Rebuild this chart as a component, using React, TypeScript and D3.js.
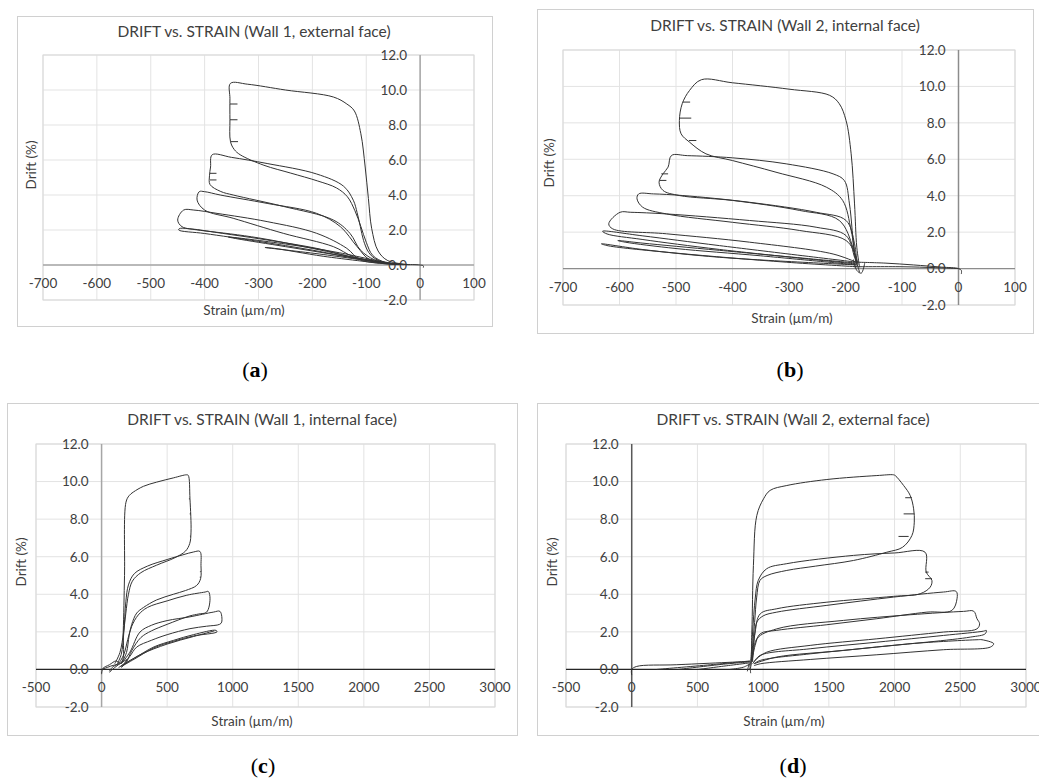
import React from "react";
import * as d3 from "d3";

type Pt = [number, number];

const driftTicks = [-2, 0, 2, 4, 6, 8, 10, 12];
const strainTicksCompression = [-700, -600, -500, -400, -300, -200, -100, 0, 100];
const strainTicksTension = [-500, 0, 500, 1000, 1500, 2000, 2500, 3000];

// (a) Wall 1, external face
const wall1ExtLoops: Pt[][] = [
  [[-20, 0.02], [-60, 0.25], [-78, 0.8], [-90, 2.1], [-96, 3.8], [-102, 5.6], [-110, 7.5], [-122, 8.8], [-136, 9.2], [-161, 9.6], [-250, 10.0], [-320, 10.33], [-352, 10.38],
   [-353, 9.5], [-353, 8.3], [-352, 7.05], [-345, 6.6], [-334, 6.3], [-290, 5.7], [-240, 5.25], [-190, 4.8], [-155, 4.4], [-135, 3.9], [-121, 3.1], [-110, 2.2], [-100, 1.3], [-88, 0.55], [-65, 0.15], [-30, 0.02]],
  [[-40, 0.05], [-80, 0.3], [-95, 0.7], [-105, 1.4], [-111, 2.2], [-117, 3.0], [-124, 3.7], [-142, 4.5], [-192, 5.2], [-284, 5.8], [-350, 6.15], [-386, 6.3],
   [-389, 5.6], [-391, 5.1], [-390, 4.6], [-370, 4.2], [-347, 4.0], [-254, 3.35], [-161, 2.57], [-130, 1.8], [-111, 0.86], [-85, 0.3], [-50, 0.05]],
  [[-40, 0.05], [-93, 0.29], [-117, 1.05], [-148, 2.19], [-192, 2.95], [-284, 3.52], [-371, 4.0], [-400, 4.19], [-410, 4.19],
   [-414, 3.71], [-400, 3.14], [-347, 2.67], [-254, 1.81], [-161, 1.05], [-124, 0.48], [-60, 0.08]],
  [[-40, 0.05], [-111, 0.29], [-136, 0.95], [-192, 1.81], [-284, 2.48], [-377, 2.95], [-420, 3.14], [-439, 3.14],
   [-450, 2.57], [-442, 2.19], [-408, 2.0], [-284, 1.43], [-192, 0.95], [-130, 0.48], [-60, 0.08]],
  [[-40, 0.03], [-99, 0.29], [-200, 0.95], [-300, 1.55], [-400, 1.95], [-447, 2.08],
   [-448, 2.0], [-400, 1.8], [-300, 1.35], [-200, 0.85], [-99, 0.25], [-40, 0.02]],
  [[-60, 0.1], [-150, 0.7], [-250, 1.2], [-356, 1.6], [-340, 1.5], [-250, 1.05], [-150, 0.55], [-60, 0.08]],
  [[-60, 0.08], [-180, 0.6], [-288, 1.0], [-270, 0.95], [-180, 0.5], [-60, 0.05]],
  [[-60, 0.05], [-30, 0.03], [0, 0], [6, -0.05], [6, -0.15]],
];
const wall1ExtMarks: Pt[][] = [
  [[-353, 9.2], [-339, 9.2]], [[-353, 8.3], [-339, 8.3]], [[-352, 7.05], [-338, 7.05]],
  [[-390, 5.24], [-378, 5.24]], [[-390, 4.86], [-378, 4.86]],
];

// (b) Wall 2, internal face
const wall2IntLoops: Pt[][] = [
  [[-175, 0.07], [-180, 1.17], [-184, 3.55], [-190, 6.3], [-199, 8.13], [-211, 9.05], [-228, 9.51], [-300, 9.85], [-400, 10.2], [-455, 10.37],
   [-476, 9.78], [-489, 9.05], [-494, 8.13], [-491, 7.4], [-476, 6.94], [-447, 6.3], [-400, 5.93], [-323, 5.29], [-234, 4.47], [-205, 3.74], [-190, 2.09], [-181, 0.44], [-175, -0.2]],
  [[-180, 0.3], [-184, 0.8], [-193, 3.55], [-202, 4.83], [-222, 5.2], [-305, 5.75], [-400, 6.08], [-480, 6.2], [-508, 6.21],
   [-514, 5.57], [-523, 5.2], [-530, 4.74], [-523, 4.29], [-494, 4.01], [-400, 3.74], [-281, 3.19], [-211, 2.64], [-187, 1.17], [-181, 0.3]],
  [[-180, 0.3], [-184, 1.36], [-199, 2.64], [-252, 3.09], [-370, 3.64], [-488, 4.01], [-540, 4.1], [-566, 4.1],
   [-569, 3.83], [-559, 3.37], [-517, 3.0], [-400, 2.54], [-281, 2.09], [-199, 1.54], [-181, 0.62], [-178, 0.2]],
  [[-180, 0.25], [-184, 0.62], [-199, 1.81], [-252, 2.27], [-370, 2.64], [-517, 3.0], [-580, 3.09], [-599, 3.09],
   [-619, 2.46], [-612, 2.18], [-517, 1.91], [-370, 1.45], [-222, 0.8], [-181, 0.35]],
  [[-180, 0.35], [-423, 1.26], [-560, 1.8], [-630, 2.05], [-622, 1.9], [-560, 1.6], [-423, 1.05], [-180, 0.25]],
  [[-180, 0.3], [-423, 1.0], [-560, 1.4], [-603, 1.54], [-590, 1.45], [-500, 1.1], [-350, 0.7], [-180, 0.2]],
  [[-180, 0.2], [-423, 0.62], [-560, 1.05], [-632, 1.36], [-620, 1.25], [-500, 0.85], [-305, 0.35], [-180, 0.1]],
  [[-180, 0.35], [-130, 0.3], [-80, 0.2], [-30, 0.08], [0, 0], [5, -0.1], [5, -0.3]],
  [[-185, 0.1], [-100, 0.1], [-40, 0.05], [0, 0]],
  [[-186, 0.5], [-180, -0.1], [-172, -0.25], [-166, 0.3]],
];
const wall2IntMarks: Pt[][] = [
  [[-488, 9.14], [-475, 9.14]], [[-494, 8.26], [-473, 8.26]], [[-477, 7.03], [-464, 7.03]],
  [[-526, 5.2], [-514, 5.2]], [[-529, 4.84], [-517, 4.84]],
];

// (c) Wall 1, internal face
const wall1IntLoops: Pt[][] = [
  [[0, 0], [80, 0.2], [153, 0.39], [165, 2.0], [175, 5.0], [186, 8.9], [210, 9.25], [242, 9.44], [320, 9.75], [420, 9.97], [550, 10.2], [649, 10.36],
   [661, 10.33], [674, 9.08], [682, 7.31], [672, 6.7], [640, 6.3], [560, 5.95], [420, 5.55], [300, 5.15], [235, 4.7], [205, 4.0], [185, 3.0], [168, 2.0], [140, 0.9], [100, 0.3]],
  [[120, 0.3], [150, 0.8], [170, 2.0], [185, 3.6], [205, 4.5], [250, 5.1], [350, 5.5], [500, 5.85], [620, 6.1], [700, 6.25], [750, 6.28],
   [758, 5.53], [755, 4.83], [725, 4.47], [640, 4.2], [547, 4.0], [420, 3.7], [320, 3.3], [268, 3.0], [230, 2.4], [210, 1.8], [190, 0.9], [150, 0.3]],
  [[130, 0.3], [170, 0.8], [200, 1.6], [230, 2.3], [280, 2.9], [350, 3.3], [500, 3.65], [650, 3.95], [790, 4.12], [814, 4.15],
   [827, 3.76], [801, 3.05], [740, 2.95], [674, 2.85], [500, 2.4], [380, 2.05], [300, 1.7], [230, 1.0], [190, 0.4], [150, 0.1]],
  [[150, 0.3], [216, 0.92], [293, 1.99], [380, 2.35], [500, 2.6], [674, 2.8], [852, 3.05], [903, 3.09],
   [916, 2.52], [900, 2.4], [800, 2.3], [674, 2.17], [500, 1.85], [380, 1.55], [268, 1.19], [216, 0.7], [170, 0.3]],
  [[150, 0.2], [250, 0.6], [400, 1.2], [550, 1.55], [700, 1.85], [873, 2.08], [880, 2.0], [700, 1.78], [550, 1.5], [400, 1.15], [250, 0.55], [150, 0.15]],
  [[130, 0.1], [300, 0.8], [500, 1.35], [700, 1.75], [860, 2.05]],
  [[0, -0.25], [10, 0.05], [60, 0.25], [110, 0.45], [130, 0.35], [80, 0.1], [60, -0.1]],
  [[60, -0.15], [100, 0.1], [160, 0.4], [200, 0.55]],
];
const wall1IntMarks: Pt[][] = [
  [[674, 9.08], [666, 9.08]], [[681, 8.28], [672, 8.28]], [[682, 7.1], [674, 7.1]],
  [[757, 5.2], [750, 5.2]], [[756, 4.91], [749, 4.91]],
];

// (d) Wall 2, external face
const wall2ExtLoops: Pt[][] = [
  [[890, 0.0], [901, 0.04], [914, 1.99], [926, 5.53], [952, 8.2], [1003, 9.08], [1053, 9.53], [1180, 9.79], [1485, 10.11], [1865, 10.32], [1992, 10.36],
   [2005, 10.32], [2069, 9.79], [2119, 9.26], [2145, 8.55], [2150, 7.84], [2132, 7.13], [2060, 6.5], [1941, 6.24], [1687, 5.8], [1400, 5.5], [1180, 5.27], [1030, 5.0], [976, 4.74], [951, 3.85], [935, 2.5], [915, 0.9], [905, 0.2]],
  [[905, 0.3], [920, 2.0], [940, 3.8], [963, 4.74], [1027, 5.36], [1180, 5.63], [1687, 6.07], [2000, 6.2], [2232, 6.24],
   [2241, 5.18], [2284, 4.74], [2271, 4.38], [2195, 4.03], [1992, 3.89], [1485, 3.58], [1104, 3.23], [978, 2.96], [939, 1.99], [915, 0.5]],
  [[915, 0.5], [935, 1.8], [952, 2.52], [1000, 2.85], [1104, 3.05], [1485, 3.41], [1992, 3.85], [2373, 4.12], [2469, 4.15],
   [2475, 3.76], [2436, 3.14], [2246, 3.05], [1865, 2.7], [1485, 2.38], [1104, 2.08], [978, 1.9], [939, 1.28], [915, 0.4]],
  [[920, 0.4], [952, 1.63], [1104, 2.16], [1612, 2.61], [2119, 2.91], [2525, 3.09], [2602, 3.1],
   [2627, 2.7], [2647, 2.43], [2627, 2.16], [2373, 1.99], [1865, 1.63], [1358, 1.28], [1028, 0.92], [952, 0.57], [920, 0.3]],
  [[930, 0.4], [978, 0.75], [1358, 1.1], [1865, 1.45], [2373, 1.81], [2678, 2.04], [2698, 2.08], [2690, 1.9], [2576, 1.72], [1865, 1.19], [1358, 0.83], [978, 0.48], [930, 0.3]],
  [[930, 0.3], [1104, 0.66], [1612, 1.01], [2119, 1.37], [2627, 1.58], [2665, 1.58], [2754, 1.37], [2729, 1.19], [2373, 1.05], [1865, 0.78], [1358, 0.53], [978, 0.3], [930, 0.2]],
  [[0, -0.3], [0, 0], [38, 0.16], [343, 0.25], [901, 0.43]],
  [[190, 0], [600, 0.25], [900, 0.45]],
  [[355, 0], [700, 0.28], [900, 0.4]],
  [[507, 0], [750, 0.22], [900, 0.35]],
  [[748, 0], [850, 0.12], [900, 0.3]],
  [[880, -0.1], [895, 0.3], [905, -0.2]],
];
const wall2ExtMarks: Pt[][] = [
  [[2132, 9.14], [2081, 9.14]], [[2150, 8.28], [2069, 8.28]], [[2107, 7.08], [2030, 7.08]],
  [[2259, 5.18], [2233, 5.18]], [[2284, 4.83], [2233, 4.83]],
];

type Box = { x: number; y: number; w: number; h: number };
type PanelSpec = {
  title: string;
  caption: string;
  box: Box;
  plot: Box;
  xDomain: [number, number];
  xTicks: number[];
  loops: Pt[][];
  marks: Pt[][];
  titlePos: [number, number];
  strainPos: [number, number];
  driftPos: [number, number];
  captionPos: [number, number];
  zeroLineColor: string;
  vAxisColor: string;
};

const panels: PanelSpec[] = [
  {
    title: "DRIFT vs. STRAIN (Wall 1, external face)", caption: "a",
    box: { x: 17, y: 16, w: 475, h: 310 }, plot: { x: 43, y: 55, w: 431, h: 245 },
    xDomain: [-700, 100], xTicks: strainTicksCompression,
    loops: wall1ExtLoops, marks: wall1ExtMarks,
    titlePos: [254, 37], strainPos: [244, 315], driftPos: [31, 165], captionPos: [255, 377],
    zeroLineColor: "#a6a6a6", vAxisColor: "#a6a6a6",
  },
  {
    title: "DRIFT vs. STRAIN (Wall 2, internal face)", caption: "b",
    box: { x: 537, y: 9, w: 496, h: 324 }, plot: { x: 563, y: 50, w: 452, h: 255 },
    xDomain: [-700, 100], xTicks: strainTicksCompression,
    loops: wall2IntLoops, marks: wall2IntMarks,
    titlePos: [785, 31], strainPos: [792, 323], driftPos: [549, 163], captionPos: [790, 377],
    zeroLineColor: "#8c8c8c", vAxisColor: "#8c8c8c",
  },
  {
    title: "DRIFT vs. STRAIN (Wall 1, internal face)", caption: "c",
    box: { x: 7, y: 403, w: 510, h: 332 }, plot: { x: 36, y: 444, w: 459, h: 263 },
    xDomain: [-500, 3000], xTicks: strainTicksTension,
    loops: wall1IntLoops, marks: wall1IntMarks,
    titlePos: [262, 425], strainPos: [252, 726], driftPos: [21, 562], captionPos: [263, 773],
    zeroLineColor: "#262626", vAxisColor: "#a6a6a6",
  },
  {
    title: "DRIFT vs. STRAIN (Wall 2, external face)", caption: "d",
    box: { x: 537, y: 403, w: 520, h: 332 }, plot: { x: 566, y: 444, w: 460, h: 263 },
    xDomain: [-500, 3000], xTicks: strainTicksTension,
    loops: wall2ExtLoops, marks: wall2ExtMarks,
    titlePos: [793, 425], strainPos: [784, 726], driftPos: [552, 562], captionPos: [793, 773],
    zeroLineColor: "#262626", vAxisColor: "#595959",
  },
];

const sans = "Lato, 'Open Sans', 'Liberation Sans', sans-serif";

function Panel({ p }: { p: PanelSpec }) {
  const x = d3.scaleLinear().domain(p.xDomain).range([p.plot.x, p.plot.x + p.plot.w]);
  const y = d3.scaleLinear().domain([-2, 12]).range([p.plot.y + p.plot.h, p.plot.y]);
  const smooth = d3
    .line<Pt>()
    .x((d) => x(d[0]))
    .y((d) => y(d[1]))
    .curve(d3.curveCatmullRom.alpha(0.5));
  const straight = d3
    .line<Pt>()
    .x((d) => x(d[0]))
    .y((d) => y(d[1]));

  const x0 = x(0);
  const y0 = y(0);

  return (
    <g>
      <rect x={p.box.x + 0.5} y={p.box.y + 0.5} width={p.box.w} height={p.box.h} fill="#fff" stroke="#d0d0d0" />
      <text x={p.titlePos[0]} y={p.titlePos[1]} textAnchor="middle" fontFamily={sans} fontSize={15.5} fill="#404040">
        {p.title}
      </text>

      {/* grid */}
      {p.xTicks.map((t) => (
        <line key={"gx" + t} x1={x(t)} x2={x(t)} y1={p.plot.y} y2={p.plot.y + p.plot.h} stroke="#e3e3e3" />
      ))}
      {driftTicks.map((t) => (
        <line key={"gy" + t} x1={p.plot.x} x2={p.plot.x + p.plot.w} y1={y(t)} y2={y(t)} stroke="#e3e3e3" />
      ))}
      <rect x={p.plot.x} y={p.plot.y} width={p.plot.w} height={p.plot.h} fill="none" stroke="#d9d9d9" />

      {/* axes crossing at zero */}
      <line x1={x0} x2={x0} y1={p.plot.y} y2={p.plot.y + p.plot.h} stroke={p.vAxisColor} strokeWidth={1.5} />
      <line x1={p.plot.x} x2={p.plot.x + p.plot.w} y1={y0} y2={y0} stroke={p.zeroLineColor} strokeWidth={1.3} />

      {/* tick labels */}
      {driftTicks.map((t) => (
        <text key={"ty" + t} x={x0 - 13} y={y(t) + 4.8} textAnchor="end" fontFamily={sans} fontSize={13.5} fill="#404040">
          {t.toFixed(1)}
        </text>
      ))}
      {p.xTicks.map((t) => (
        <text key={"tx" + t} x={x(t)} y={y0 + 23} textAnchor="middle" fontFamily={sans} fontSize={13.5} fill="#404040">
          {t}
        </text>
      ))}

      {/* data */}
      <g fill="none" stroke="#333" strokeWidth={1} strokeLinejoin="round">
        {p.loops.map((l, i) => (
          <path key={"l" + i} d={smooth(l) ?? ""} />
        ))}
        {p.marks.map((m, i) => (
          <path key={"m" + i} d={straight(m) ?? ""} />
        ))}
      </g>

      <text x={p.strainPos[0]} y={p.strainPos[1]} textAnchor="middle" fontFamily={sans} fontSize={13.5} fill="#404040">
        Strain (µm/m)
      </text>
      <text
        transform={`translate(${p.driftPos[0]},${p.driftPos[1]}) rotate(-90)`}
        textAnchor="middle"
        dy="0.35em"
        fontFamily={sans}
        fontSize={13.5}
        fill="#404040"
      >
        Drift (%)
      </text>

      <text x={p.captionPos[0]} y={p.captionPos[1]} textAnchor="middle" fontFamily="'Liberation Serif', 'DejaVu Serif', serif" fontSize={22} fill="#000">
        (<tspan fontWeight="bold">{p.caption}</tspan>)
      </text>
    </g>
  );
}

export default function App() {
  return (
    <svg width={1039} height={780} style={{ position: "absolute", left: 0, top: 0, background: "#fff" }}>
      {panels.map((p) => (
        <Panel key={p.caption} p={p} />
      ))}
    </svg>
  );
}
